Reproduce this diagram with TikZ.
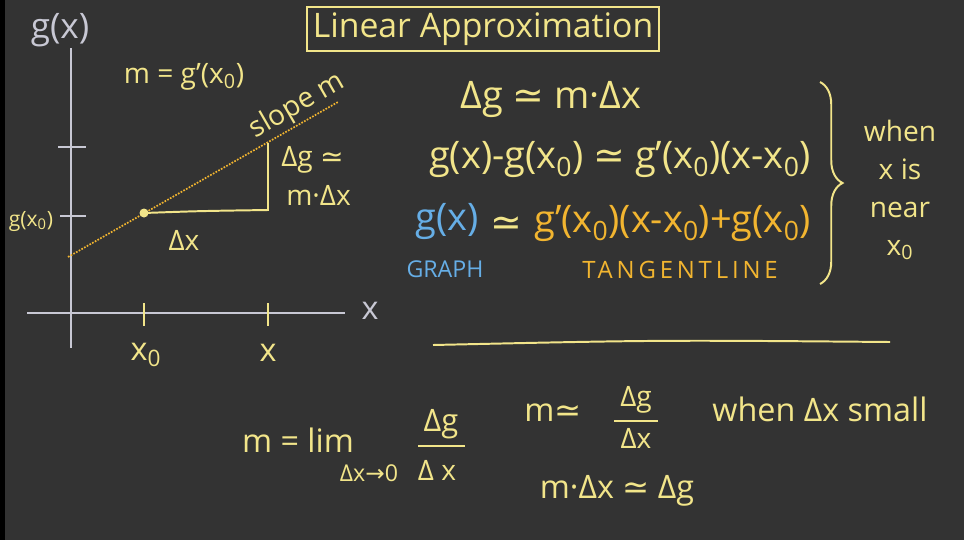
\documentclass[tikz,border=0pt]{standalone}
\usepackage{fontspec}
\setmainfont{Open Sans}
\newfontfamily\symfont{DejaVu Sans}
\usetikzlibrary{positioning,decorations.pathreplacing}

\definecolor{board}{HTML}{333333}
\definecolor{chalk}{HTML}{F2E58A}
\definecolor{axisgrey}{HTML}{C8C8D4}
\definecolor{graphblue}{HTML}{66AEE6}
\definecolor{tangorange}{HTML}{F2B530}

\newcommand{\apx}{{\symfont ≃}}
\newcommand{\lowsub}[1]{\textsubscript{#1}}

\begin{document}
\begin{tikzpicture}[
    x=0.025cm, y=-0.025cm,
    chalktext/.style={text=chalk, inner sep=0pt, font=\fontsize{20}{24}\selectfont},
    bigtext/.style={inner sep=0pt, font=\fontsize{23}{27}\selectfont},
    eqtext/.style={inner sep=0pt, font=\fontsize{27}{32}\selectfont},
    smalltext/.style={inner sep=0pt, font=\fontsize{16.5}{20}\selectfont},
    axisline/.style={draw=axisgrey, line width=1.6pt},
    chalkline/.style={draw=chalk, line width=1.4pt},
]
    % board
    \fill[board] (0,0) rectangle (964,540);
    \fill[black] (0,0) rectangle (5,540);

    % title
    \node[bigtext, text=chalk, draw=chalk, line width=1.3pt, inner sep=4pt, font=\fontsize{24}{28}\selectfont] (title) at (483,29) {Linear Approximation};

    % axes
    \coordinate (yax top) at (71,48);
    \coordinate (yax bot) at (71,348);
    \coordinate (xax left) at (27,313);
    \coordinate (xax right) at (345,313);
    \draw[axisline] (yax top) -- (yax bot);
    \draw[axisline] (xax left) -- (xax right);
    \node[bigtext, text=axisgrey, font=\fontsize{25}{30}\selectfont] (gx) at (60,30) {g(x)};
    \node[bigtext, text=axisgrey] (xlab) at (370,311) {x};

    % ticks
    \draw[axisline] (58,147) -- (86,147);
    \draw[axisline] (60,216) -- (86,216);
    \draw[chalkline] (144,303) -- (144,326);
    \draw[chalkline] (268,303) -- (268,326);
    \node[chalktext, font=\fontsize{15}{18}\selectfont] (gx0) at (31,221) {g(x\lowsub{0})};
    \node[bigtext, text=chalk] (x0lab) at (146,355) {x\lowsub{0}};
    \node[bigtext, text=chalk] (xtick) at (268,353) {x};

    % tangent line and triangle
    \coordinate (tan start) at (68,257);
    \coordinate (tan end) at (338,102);
    \coordinate (p0) at (144,213);
    \coordinate (corner) at (268,210);
    \coordinate (top) at (268,143);
    \draw[tangorange, densely dotted, line width=1.2pt] (tan start) -- (tan end);
    \draw[chalkline] (p0) .. controls (200,211) .. (corner) -- (top);
    \fill[chalk] (p0) circle (4.5);
    \node[chalktext, rotate=30] (slope) at (297,106) {slope m};
    \node[chalktext] (dx) at (184,240) {Δx};
    \node[chalktext, anchor=west] (dg) at (281,160) {Δg \apx};
    \node[chalktext, anchor=west] (mdx) at (286,195) {m·Δx};
    \node[chalktext] (slopedef) at (184,77) {m = g'(x\lowsub{0})};

    % right column
    \node[eqtext, text=chalk] (eq1) at (551,100) {Δg \apx\ m·Δx};
    \node[eqtext, text=chalk] (eq2) at (620,160) {g(x)-g(x\lowsub{0}) \apx\ g'(x\lowsub{0})(x-x\lowsub{0})};
    \node[eqtext, text=graphblue] (eq3a) at (447,222) {g(x)};
    \node[eqtext, text=chalk] (eq3b) at (506,226) {\apx};
    \node[eqtext, text=tangorange, anchor=west] (eq3c) at (534,224) {g'(x\lowsub{0})(x-x\lowsub{0})+g(x\lowsub{0})};
    \node[smalltext, text=graphblue] (graph) at (445,269) {GRAPH};
    \node[smalltext, text=tangorange, font=\fontsize{17}{20}\selectfont\addfontfeature{LetterSpace=16}] (tangent) at (680,270) {TANGENTLINE};

    % brace and condition
    \coordinate (brace top) at (820,82);
    \coordinate (brace bot) at (820,284);
    \draw[chalkline, decorate, decoration={brace, amplitude=16}] (brace top) -- (brace bot);
    \node[chalktext, align=center, font=\fontsize{20}{27}\selectfont] (near) at (900,190) {when\\x is\\near\\x\lowsub{0}};

    % separator
    \coordinate (sep left) at (433,345);
    \coordinate (sep right) at (890,342);
    \draw[chalkline] (sep left) .. controls (660,340) .. (sep right);

    % limit definition
    \node[bigtext, text=chalk] (mlim) at (298,440) {m = lim};
    \node[chalktext, font=\fontsize{22}{26}\selectfont] (limnum) at (441,424) {Δg};
    \node[chalktext] (limden) at (437,470) {Δ x};
    \coordinate (limbar l) at (418,446);
    \coordinate (limbar r) at (465,446);
    \draw[chalkline] (limbar l) -- (limbar r);
    \node[smalltext, text=chalk] (limsub) at (369,473) {Δx{\symfont →}0};

    % approximations
    \node[bigtext, text=chalk] (mapx) at (553,413) {m\apx};
    \node[chalktext] (fracnum) at (636,400) {Δg};
    \node[chalktext] (fracden) at (636,438) {Δx};
    \coordinate (fracbar l) at (614,421);
    \coordinate (fracbar r) at (658,421);
    \draw[chalkline] (fracbar l) -- (fracbar r);
    \node[bigtext, text=chalk] (small) at (820,409) {when Δx small};
    \node[bigtext, text=chalk] (back) at (617,491) {m·Δx \apx\ Δg};
\end{tikzpicture}
\end{document}
